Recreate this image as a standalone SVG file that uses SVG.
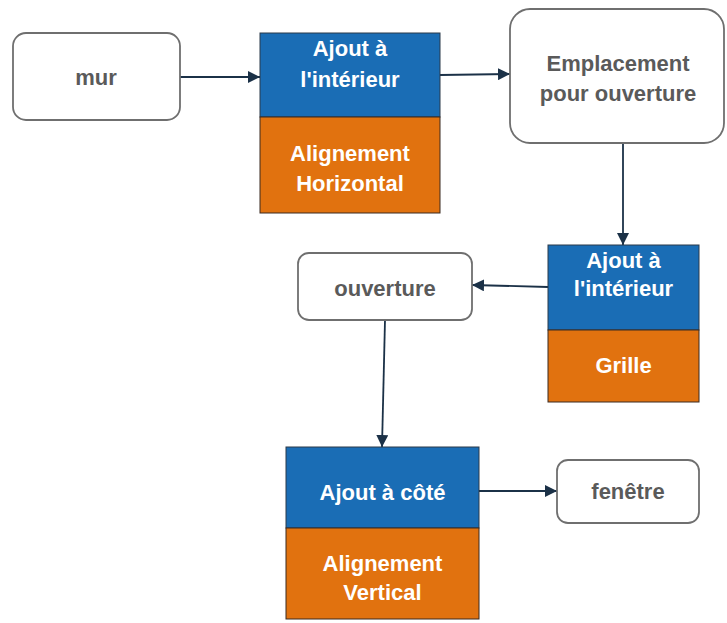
<svg xmlns="http://www.w3.org/2000/svg" width="727" height="623" viewBox="0 0 727 623">
<defs>
<marker id="ah" viewBox="0 0 12 12" refX="12" refY="6" markerWidth="12" markerHeight="12" markerUnits="userSpaceOnUse" orient="auto">
<path d="M0,0 L12,6 L0,12 z" fill="#1b3147"/>
</marker>
</defs>
<style>
.w{fill:#ffffff;stroke:#6f6f6f;stroke-width:1.8}
.b{fill:#1a6db5;stroke:#2b3a4a;stroke-width:1}
.o{fill:#e1720f;stroke:#3a2a20;stroke-width:1}
text{font-family:"Liberation Sans",Arial,sans-serif;font-weight:bold;font-size:22px;text-anchor:middle}
.g{fill:#5a5a5a}
.t{fill:#ffffff}
.c{fill:none;stroke:#1b3147;stroke-width:1.8;marker-end:url(#ah)}
</style>
<rect width="727" height="623" fill="#ffffff"/>
<g id="connectors">
<path class="c" d="M180,77 L260,77"/>
<path class="c" d="M440,75 L510,74"/>
<path class="c" d="M623,143 L623,245"/>
<path class="c" d="M548,287 L472,285"/>
<path class="c" d="M385,320 L382,447"/>
<path class="c" d="M479,491 L557,491"/>
</g>
<g id="mur">
<rect class="w" x="13" y="33" width="167" height="87" rx="13"/>
<text class="g" x="96" y="84.5">mur</text>
</g>
<g id="ajout1">
<rect class="b" x="260" y="33" width="180" height="84"/>
<rect class="o" x="260" y="117" width="180" height="96"/>
<text class="t" x="350" y="56">Ajout à</text>
<text class="t" x="350" y="87">l'intérieur</text>
<text class="t" x="350" y="161">Alignement</text>
<text class="t" x="350" y="191">Horizontal</text>
</g>
<g id="emplacement">
<rect class="w" x="510" y="9" width="214" height="134" rx="20"/>
<text class="g" x="618" y="71">Emplacement</text>
<text class="g" x="618" y="101">pour ouverture</text>
</g>
<g id="ajout2">
<rect class="b" x="548" y="245" width="151" height="85"/>
<rect class="o" x="548" y="330" width="151" height="72"/>
<text class="t" x="623.5" y="268">Ajout à</text>
<text class="t" x="623.5" y="296">l'intérieur</text>
<text class="t" x="623.5" y="373">Grille</text>
</g>
<g id="ouverture">
<rect class="w" x="298" y="253" width="174" height="67" rx="11"/>
<text class="g" x="385" y="296">ouverture</text>
</g>
<g id="ajout3">
<rect class="b" x="286" y="447" width="193" height="81"/>
<rect class="o" x="286" y="528" width="193" height="91"/>
<text class="t" x="382.5" y="500">Ajout à côté</text>
<text class="t" x="382.5" y="571">Alignement</text>
<text class="t" x="382.5" y="600">Vertical</text>
</g>
<g id="fenetre">
<rect class="w" x="557" y="460" width="142" height="63" rx="11"/>
<text class="g" x="628" y="499">fenêtre</text>
</g>
</svg>
